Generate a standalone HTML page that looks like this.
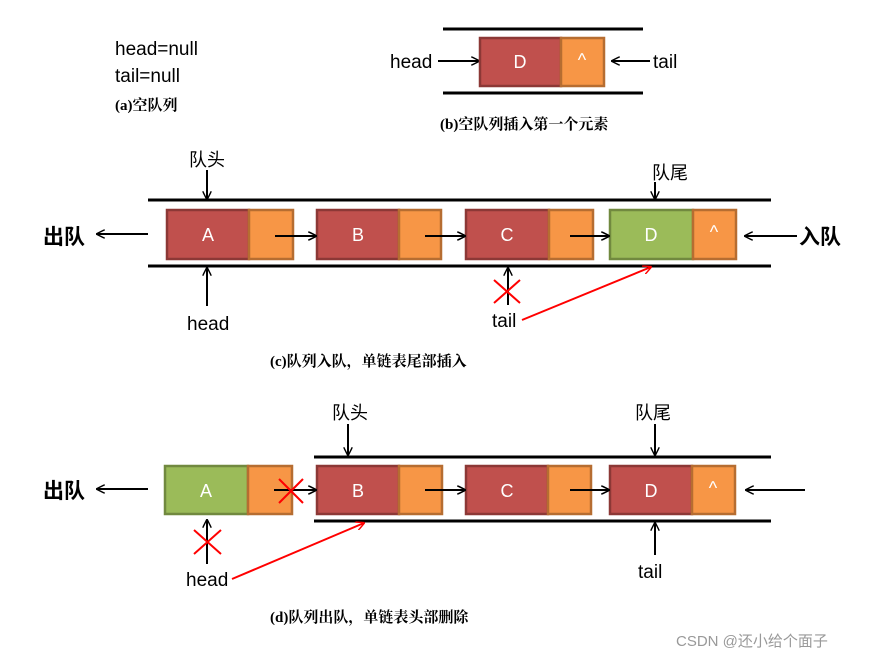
<!DOCTYPE html>
<html><head><meta charset="utf-8"><style>
body{margin:0;background:#fff}
svg{display:block}
.t{font-family:"Liberation Sans","Noto Sans CJK SC",sans-serif;fill:#000}
.w{font-family:"Liberation Sans",sans-serif;fill:#fff;font-size:18px;text-anchor:middle}
.c{font-family:"Liberation Serif","Noto Serif CJK SC",serif;font-weight:bold;font-size:15px;fill:#000}
</style></head><body>
<svg width="885" height="659" viewBox="0 0 885 659" xmlns="http://www.w3.org/2000/svg">
<defs>
<marker id="a" viewBox="0 0 10 10" refX="9" refY="5" markerWidth="9" markerHeight="9" orient="auto" markerUnits="userSpaceOnUse"><path d="M0,0 L10,5 L0,10" fill="none" stroke="#000" stroke-width="1.6"/></marker>
<marker id="r" viewBox="0 0 10 10" refX="9" refY="5" markerWidth="9" markerHeight="9" orient="auto" markerUnits="userSpaceOnUse"><path d="M0,0 L10,5 L0,10" fill="none" stroke="#f00" stroke-width="1.6"/></marker>
</defs>
<g stroke="#000" stroke-width="2" fill="none" marker-end="url(#a)">
<!-- b -->
<line x1="438" y1="61" x2="479" y2="61"/><line x1="650" y1="61" x2="612" y2="61"/>
<!-- c -->
<line x1="148" y1="234" x2="97" y2="234"/><line x1="797" y1="236" x2="745" y2="236"/>
<line x1="275" y1="236" x2="316" y2="236"/><line x1="425" y1="236" x2="465" y2="236"/><line x1="570" y1="236" x2="609" y2="236"/>
<line x1="207" y1="170" x2="207" y2="199"/><line x1="655" y1="182" x2="655" y2="199"/>
<line x1="207" y1="306" x2="207" y2="268"/><line x1="508" y1="305" x2="508" y2="268"/>
<!-- d -->
<line x1="148" y1="489" x2="97" y2="489"/><line x1="805" y1="490" x2="746" y2="490"/>
<line x1="274" y1="490" x2="316" y2="490"/><line x1="425" y1="490" x2="465" y2="490"/><line x1="570" y1="490" x2="609" y2="490"/>
<line x1="348" y1="424" x2="348" y2="455"/><line x1="655" y1="424" x2="655" y2="455"/>
<line x1="655" y1="555" x2="655" y2="523"/><line x1="207" y1="564" x2="207" y2="520"/>
</g>
<g stroke="#000" stroke-width="3">
<line x1="443" y1="29" x2="643" y2="29"/><line x1="443" y1="93" x2="643" y2="93"/>
<line x1="148" y1="200" x2="771" y2="200"/><line x1="148" y1="266" x2="771" y2="266"/>
<line x1="314" y1="457" x2="771" y2="457"/><line x1="314" y1="521" x2="771" y2="521"/>
</g>
<g stroke-width="2.5">
<!-- b -->
<rect x="480" y="38" width="81" height="48" fill="#C0504D" stroke="#8C3836"/><rect x="561" y="38" width="43" height="48" fill="#F79646" stroke="#B66D31"/>
<!-- c -->
<rect x="167" y="210" width="82" height="49" fill="#C0504D" stroke="#8C3836"/><rect x="249" y="210" width="44" height="49" fill="#F79646" stroke="#B66D31"/>
<rect x="317" y="210" width="82" height="49" fill="#C0504D" stroke="#8C3836"/><rect x="399" y="210" width="42" height="49" fill="#F79646" stroke="#B66D31"/>
<rect x="466" y="210" width="83" height="49" fill="#C0504D" stroke="#8C3836"/><rect x="549" y="210" width="44" height="49" fill="#F79646" stroke="#B66D31"/>
<rect x="610" y="210" width="83" height="49" fill="#9BBB59" stroke="#71893F"/><rect x="693" y="210" width="43" height="49" fill="#F79646" stroke="#B66D31"/>
<!-- d -->
<rect x="165" y="466" width="83" height="48" fill="#9BBB59" stroke="#71893F"/><rect x="248" y="466" width="44" height="48" fill="#F79646" stroke="#B66D31"/>
<rect x="317" y="466" width="82" height="48" fill="#C0504D" stroke="#8C3836"/><rect x="399" y="466" width="43" height="48" fill="#F79646" stroke="#B66D31"/>
<rect x="466" y="466" width="82" height="48" fill="#C0504D" stroke="#8C3836"/><rect x="548" y="466" width="43" height="48" fill="#F79646" stroke="#B66D31"/>
<rect x="610" y="466" width="82" height="48" fill="#C0504D" stroke="#8C3836"/><rect x="692" y="466" width="43" height="48" fill="#F79646" stroke="#B66D31"/>
</g>
<g stroke="#000" stroke-width="2" marker-end="url(#a)">
<line x1="275" y1="236" x2="316" y2="236"/><line x1="425" y1="236" x2="465" y2="236"/><line x1="570" y1="236" x2="609" y2="236"/>
<line x1="274" y1="490" x2="316" y2="490"/><line x1="425" y1="490" x2="465" y2="490"/><line x1="570" y1="490" x2="609" y2="490"/>
</g>
<g class="w">
<text x="520" y="68">D</text><text x="582" y="66">^</text>
<text x="208" y="241">A</text><text x="358" y="241">B</text><text x="507" y="241">C</text><text x="651" y="241">D</text><text x="714" y="238">^</text>
<text x="206" y="497">A</text><text x="358" y="497">B</text><text x="507" y="497">C</text><text x="651" y="497">D</text><text x="713" y="494">^</text>
</g>
<g stroke="#f00" stroke-width="2" fill="none">
<line x1="494" y1="280" x2="520" y2="303"/><line x1="520" y1="280" x2="494" y2="303"/>
<line x1="522" y1="320" x2="651" y2="267" marker-end="url(#r)"/>
<line x1="279" y1="479" x2="303" y2="503"/><line x1="303" y1="479" x2="279" y2="503"/>
<line x1="194" y1="530" x2="221" y2="554"/><line x1="221" y1="530" x2="194" y2="554"/>
<line x1="232" y1="579" x2="364" y2="523" marker-end="url(#r)"/>
</g>
<g class="t" font-size="19">
<text x="115" y="55">head=null</text><text x="115" y="82">tail=null</text>
<text x="390" y="68">head</text><text x="653" y="68">tail</text>
<text x="187" y="330">head</text><text x="492" y="327">tail</text>
<text x="186" y="586">head</text><text x="638" y="578">tail</text>
</g>
<g class="t" font-size="18">
<text x="189" y="166">队头</text><text x="652" y="179">队尾</text>
<text x="332" y="419">队头</text><text x="635" y="419">队尾</text>
</g>
<g class="t" font-size="21" font-weight="bold">
<text x="43" y="244">出队</text><text x="799" y="244">入队</text><text x="43" y="498">出队</text>
</g>
<g class="c">
<text x="115" y="110">(a)空队列</text>
<text x="440" y="129">(b)空队列插入第一个元素</text>
<text x="270" y="366">(c)队列入队，单链表尾部插入</text>
<text x="270" y="622">(d)队列出队，单链表头部删除</text>
</g>
<text x="676" y="646" font-family="Liberation Sans,'Noto Sans CJK SC',sans-serif" font-size="15" fill="#999">CSDN @还小给个面子</text>
</svg>
</body></html>
